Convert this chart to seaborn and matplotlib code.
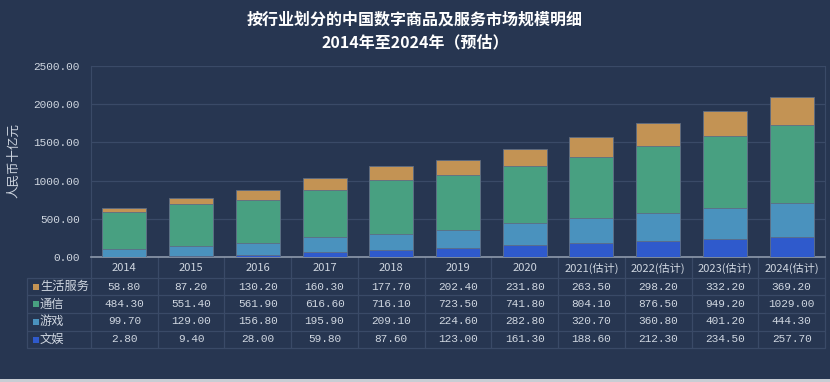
import matplotlib
matplotlib.use("Agg")
import matplotlib.pyplot as plt
import matplotlib.transforms as mtransforms
import numpy as np
import pandas as pd
import seaborn as sns

# data
years = ["2014", "2015", "2016", "2017", "2018", "2019", "2020",
         "2021(估计)", "2022(估计)", "2023(估计)", "2024(估计)"]
series_names = ["生活服务", "通信", "游戏", "文娱"]
life_service = [58.80, 87.20, 130.20, 160.30, 177.70, 202.40, 231.80, 263.50, 298.20, 332.20, 369.20]
telecom = [484.30, 551.40, 561.90, 616.60, 716.10, 723.50, 741.80, 804.10, 876.50, 949.20, 1029.00]
games = [99.70, 129.00, 156.80, 195.90, 209.10, 224.60, 282.80, 320.70, 360.80, 401.20, 444.30]
entertainment = [2.80, 9.40, 28.00, 59.80, 87.60, 123.00, 161.30, 188.60, 212.30, 234.50, 257.70]
yticks = [0, 500, 1000, 1500, 2000, 2500]

BG = "#273651"
GRID = "#3a4a67"
TEXT = "#cfd6e0"
colors = {"生活服务": "#c39354", "通信": "#48a081", "游戏": "#4a92be", "文娱": "#2f5acc"}

sns.set_theme(style="dark")
plt.rcParams["font.family"] = ["Noto Sans CJK SC", "DejaVu Sans"]
NUM_FONT = ["Liberation Mono", "DejaVu Sans Mono"]

values = {"生活服务": life_service, "通信": telecom, "游戏": games, "文娱": entertainment}
df = pd.DataFrame(values, index=years)

W, H = 830, 382
fig = plt.figure(figsize=(W / 100, H / 100), dpi=100, facecolor=BG)
L, R, T, B = 91, 825, 66, 257
ax = fig.add_axes([L / W, 1 - B / H, (R - L) / W, (B - T) / H])
ax.set_facecolor(BG)

# stacked bars: draw cumulative totals from top layer down
order_bottom_up = ["文娱", "游戏", "通信", "生活服务"]
cum = df[order_bottom_up].cumsum(axis=1)
for name in reversed(order_bottom_up):
    plot_df = pd.DataFrame({"year": years, "value": cum[name].values})
    sns.barplot(data=plot_df, x="year", y="value", color=colors[name], saturation=1,
                width=0.66, edgecolor="#5d6c84", linewidth=0.6, ax=ax, zorder=3)

ax.set_xlim(-0.5, len(years) - 0.5)
ax.set_ylim(0, 2500)
ax.set_yticks(yticks)
ax.set_yticklabels([f"{v:.2f}" for v in yticks], fontfamily=NUM_FONT, fontsize=8, color=TEXT)
ax.tick_params(axis="y", length=0, pad=8)
ax.set_xticks([])
ax.set_xlabel("")
ax.set_ylabel("")
ax.grid(axis="y", color=GRID, linewidth=0.9, zorder=0)
ax.grid(axis="x", visible=False)
for side in ["left", "right", "top"]:
    ax.spines[side].set_visible(True)
    ax.spines[side].set_color(GRID)
    ax.spines[side].set_linewidth(0.8)
ax.spines["top"].set_visible(False)
ax.spines["bottom"].set_color("#8d99ab")
ax.spines["bottom"].set_linewidth(1.2)

fig.text(14 / W, 1 - 160 / H, "人民币十亿元", rotation=90, ha="center", va="center",
         color=TEXT, fontsize=9)

fig.text(0.5, 1 - 20 / H, "按行业划分的中国数字商品及服务市场规模明细", ha="center", va="center",
         color="white", fontsize=11.5, fontweight="bold")
fig.text(0.5, 1 - 42 / H, "2014年至2024年（预估）", ha="center", va="center",
         color="white", fontsize=11.5, fontweight="bold")

# data table under the axis
trans = mtransforms.blended_transform_factory(ax.transData, ax.transAxes)
colw = (R - L) / len(years)


def ypx(y):
    return (B - y) / (B - T)


def xpx(x):
    return (x - L) / colw - 0.5


header_y = 268
row_y = [286.5, 304, 321.5, 339.5]
row_lines = [277.5, 295, 312.5, 330.5, 348]
label_left = 27

for i, yr in enumerate(years):
    ax.text(i, ypx(header_y), yr, transform=trans, ha="center", va="center",
            fontsize=8, color=TEXT, clip_on=False)

for name, yc in zip(series_names, row_y):
    fig.patches.append(plt.Rectangle((33 / W, 1 - (yc + 3) / H), 6 / W, 6 / H,
                                     transform=fig.transFigure, facecolor=colors[name],
                                     edgecolor="none"))
    ax.text(xpx(40), ypx(yc), name, transform=trans, ha="left", va="center",
            fontsize=8.8, color=TEXT, clip_on=False)
    for i, v in enumerate(values[name]):
        ax.text(i, ypx(yc), f"{v:.2f}", transform=trans, ha="center", va="center",
                fontsize=8, color=TEXT, fontfamily=NUM_FONT, clip_on=False)

for yl in row_lines:
    ax.plot([xpx(label_left), len(years) - 0.5], [ypx(yl)] * 2, transform=trans,
            color=GRID, linewidth=0.9, clip_on=False)
for k in range(len(years) + 1):
    ax.plot([k - 0.5] * 2, [0, ypx(row_lines[-1])], transform=trans,
            color=GRID, linewidth=0.9, clip_on=False)
ax.plot([xpx(label_left)] * 2, [ypx(row_lines[0]), ypx(row_lines[-1])], transform=trans,
        color=GRID, linewidth=0.9, clip_on=False)

# light strip at the bottom edge of the screenshot
fig.patches.append(plt.Rectangle((0, 0), 1, 3 / H, transform=fig.transFigure,
                                 facecolor="#c8cdd4", edgecolor="none"))

fig.savefig("out.png", dpi=100, facecolor=BG)
